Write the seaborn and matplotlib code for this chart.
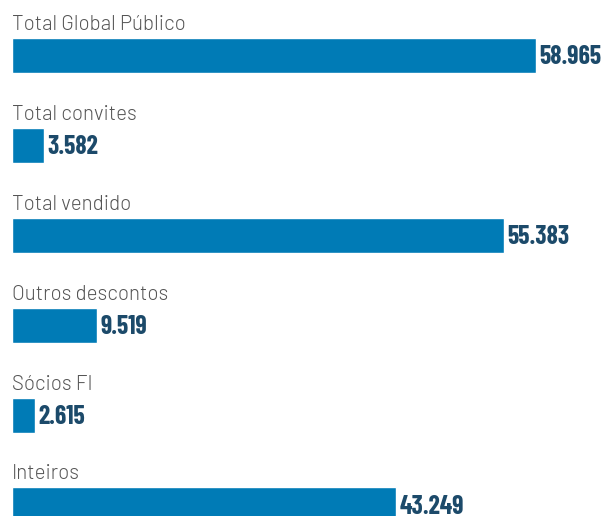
import matplotlib
matplotlib.use("Agg")
import matplotlib.pyplot as plt
import seaborn as sns
import pandas as pd

# chart data
categories = ["Total Global Público", "Total convites", "Total vendido",
              "Outros descontos", "Sócios FI", "Inteiros"]
values = [58965, 3582, 55383, 9519, 2615, 43249]
value_labels = ["58.965", "3.582", "55.383", "9.519", "2.615", "43.249"]

sns.set_style("white")
plt.rcParams["font.family"] = ["Barlow", "Roboto", "DejaVu Sans"]

df = pd.DataFrame({"categoria": categories, "valor": values})

fig = plt.figure(figsize=(6.01, 5.16), dpi=100)
ax = fig.add_axes([0, 0, 1, 1])
sns.barplot(data=df, x="valor", y="categoria", orient="h", color="#007BB6",
            width=0.39, saturation=1, ax=ax)

ax.set_xlim(-1350, 66276)
ax.set_ylim(5.122, -0.617)

for i, (cat, val, lab) in enumerate(zip(categories, values, value_labels)):
    ax.text(0, i - 0.284, cat, ha="left", va="baseline", fontsize=14.8,
            fontweight=300, color="#555555")
    # value label right of the bar, condensed bold
    ax.annotate(lab, xy=(val, i + 0.1), xytext=(2.5, 0), textcoords="offset points",
                ha="left", va="baseline", fontsize=18.5, fontweight="bold",
                color="#1C4A6A",
                family=["Barlow Condensed", "DejaVu Sans"])

ax.set_axis_off()
fig.savefig("out.png", dpi=100)
